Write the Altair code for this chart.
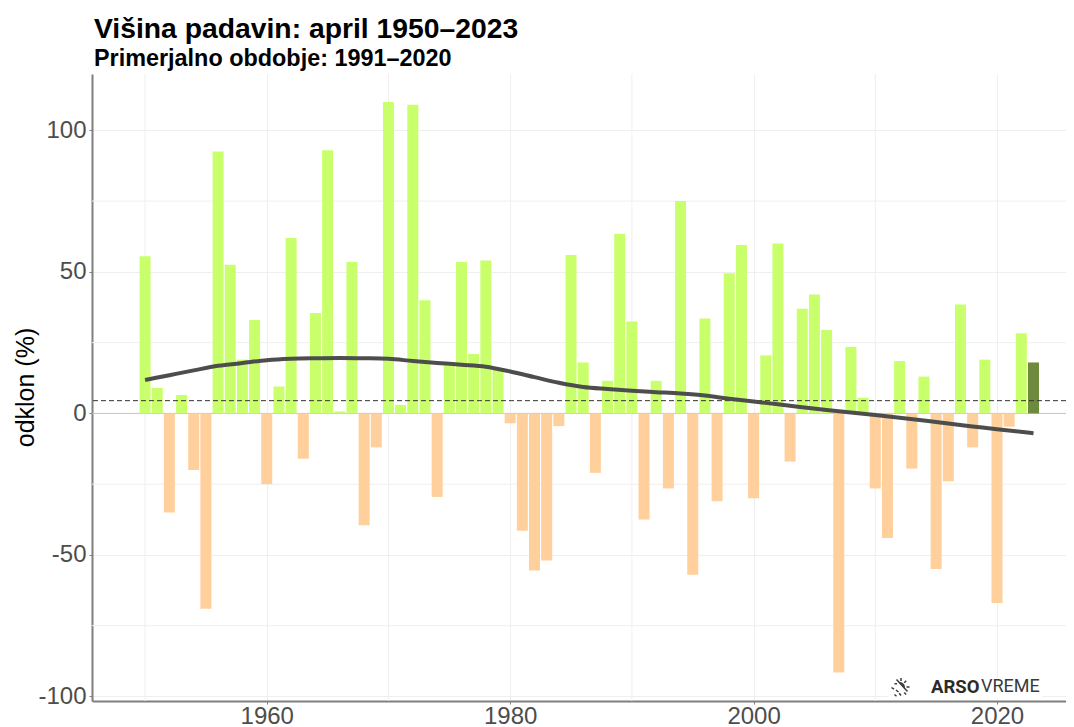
import altair as alt
import pandas as pd

years = list(range(1950, 2024))
anomaly = [55.5, 9, -35, 6.5, -20, -69, 92.5, 52.5, 19, 33,
           -25, 9.5, 62, -16, 35.5, 93, 0.7, 53.5, -39.5, -12,
           110, 3, 109, 40, -29.5, 17, 53.5, 21, 54, 16,
           -3.5, -41.5, -55.5, -52, -4.5, 56, 18, -21, 11.5, 63.5,
           32.5, -37.5, 11.5, -26.5, 75, -57, 33.5, -31, 49.5, 59.5,
           -30, 20.5, 60, -17, 37, 42, 29.5, -91.5, 23.5, 5.5,
           -26.5, -44, 18.5, -19.5, 13, -55, -24, 38.5, -12, 19,
           -67, -4.7, 28.3, 18]
trend_years = [1950, 1952, 1954, 1956, 1958, 1960, 1962, 1964, 1966, 1968, 1970, 1972, 1974,
               1976, 1978, 1980, 1982, 1984, 1986, 1988, 1990, 1992, 1994, 1996, 1998, 2000,
               2002, 2004, 2006, 2008, 2010, 2012, 2014, 2016, 2018, 2020, 2023]
trend_values = [11.8, 13.5, 15.2, 16.8, 17.8, 18.8, 19.3, 19.5, 19.6, 19.5, 19.3, 18.5, 17.8,
                17.2, 16.5, 14.8, 12.8, 10.8, 9.3, 8.6, 8, 7.5, 7, 6.3, 5.2, 4.2,
                3.2, 2.2, 1.2, 0.3, -0.6, -1.5, -2.5, -3.6, -4.6, -5.6, -7]
minor_x = [1950, 1970, 1990, 2010]
minor_y = [-75, -25, 25, 75]
x_ticks = [1960, 1980, 2000, 2020]
y_ticks = [-100, -50, 0, 50, 100]
reference_level = 4.5

kinds = []
for y, v in zip(years, anomaly):
    kinds.append("last" if y == 2023 else ("pos" if v >= 0 else "neg"))
bars_df = pd.DataFrame({"year": years, "value": anomaly, "kind": kinds})
trend_df = pd.DataFrame({"year": trend_years, "value": trend_values})

x_scale = alt.Scale(domain=[1945.64, 2025.67], nice=False, zero=False, padding=0)
y_scale = alt.Scale(domain=[-101.6, 119.9], nice=False, zero=False, padding=0)
GRID = "#EFEFEF"

x_enc = alt.X("year:Q", scale=x_scale, title=None,
              axis=alt.Axis(values=x_ticks, format="d", labelFontSize=24, labelColor="#4D4D4D",
                            labelFont="Liberation Sans", labelPadding=0, tickSize=3, tickColor="#7F7F7F",
                            domainColor="#7F7F7F", domainWidth=2, gridColor=GRID, gridWidth=1, grid=True,
                            labelFlush=False, labelOverlap=False))
y_enc = alt.Y("value:Q", scale=y_scale, title="odklon (%)",
              axis=alt.Axis(values=y_ticks, labelExpr="toString(datum.value)", labelFontSize=24,
                            labelColor="#4D4D4D",
                            labelFont="Liberation Sans", labelPadding=3, tickSize=3, tickColor="#7F7F7F",
                            domainColor="#7F7F7F", domainWidth=2, gridColor=GRID, gridWidth=1, grid=True,
                            titleFontSize=25, titleFont="Liberation Sans", titleFontWeight="normal",
                            titleColor="#000000", titleX=-54, titleY=313, labelOverlap=False))

minor_v = alt.Chart(pd.DataFrame({"x": minor_x})).mark_rule(color=GRID, strokeWidth=1).encode(
    x=alt.X("x:Q", scale=x_scale))
minor_h = alt.Chart(pd.DataFrame({"y": minor_y})).mark_rule(color=GRID, strokeWidth=1).encode(
    y=alt.Y("y:Q", scale=y_scale))

bars = alt.Chart(bars_df).mark_bar(size=11, orient="vertical").encode(
    x=x_enc,
    y=y_enc,
    color=alt.Color("kind:N", legend=None,
                    scale=alt.Scale(domain=["pos", "neg", "last"],
                                    range=["#CAFF6C", "#FFD09B", "#6E8A3C"])),
)
zero = alt.Chart(pd.DataFrame({"y": [0]})).mark_rule(color="#C4C4C4", strokeWidth=1).encode(
    y=alt.Y("y:Q", scale=y_scale))
ref = alt.Chart(pd.DataFrame({"y": [reference_level]})).mark_rule(
    color="#333333", strokeWidth=1, strokeDash=[5, 3]).encode(y=alt.Y("y:Q", scale=y_scale))
trend = alt.Chart(trend_df).mark_line(color="#4D4D4D", strokeWidth=4, interpolate="monotone").encode(
    x=alt.X("year:Q", scale=x_scale), y=alt.Y("value:Q", scale=y_scale))

logo_bg = alt.Chart(pd.DataFrame({"a": [0]})).mark_rect(color="white").encode(
    x=alt.value(796), x2=alt.value(950), y=alt.value(604), y2=alt.value(625))
icon_path = ("M-0.35,-0.75 L0.75,0.45 M-0.02,-0.42 A0.45,0.45 0 0 1 0.42,0.12 "
             "M0.1,-0.9 L0.1,-0.6 M0.62,-0.62 L0.42,-0.42 M0.95,0 L0.65,0 "
             "M-0.55,-0.32 L-0.3,-0.32 M0.62,0.75 L0.42,0.55 "
             "M-0.85,0.05 L-0.6,0.22 M-0.4,0.3 L-0.15,0.5 M-0.55,0.75 L-0.35,0.92 M-0.08,0.62 L0.1,0.85")
logo_icon = alt.Chart(pd.DataFrame({"a": [0]})).mark_point(
    shape=icon_path, filled=False, stroke="#3A3A3A", strokeWidth=1.5, size=400, opacity=1).encode(
    x=alt.value(808), y=alt.value(613))
logo_a = alt.Chart(pd.DataFrame({"t": ["ARSO"]})).mark_text(
    font="Roboto", fontWeight="bold", fontSize=18.5, color="#2B2B2B", align="left", baseline="middle").encode(
    x=alt.value(839), y=alt.value(613), text="t:N")
logo_b = alt.Chart(pd.DataFrame({"t": ["VREME"]})).mark_text(
    font="Roboto", fontWeight="normal", fontSize=18, color="#3A3A3A", align="left", baseline="middle").encode(
    x=alt.value(889), y=alt.value(613), text="t:N")

chart = alt.layer(minor_v, minor_h, zero, bars, ref, trend, logo_bg, logo_icon, logo_a, logo_b).properties(
    width=974, height=627,
    autosize=alt.AutoSizeParams(type="none"),
    padding={"left": 84, "top": 66, "right": 0, "bottom": 32},
    title=alt.TitleParams(text="Višina padavin: april 1950–2023", subtitle="Primerjalno obdobje: 1991–2020",
                          anchor="start", frame="group", dx=2, offset=2,
                          font="Liberation Sans", fontSize=28.3, fontWeight="bold", color="#000000",
                          subtitleFont="Liberation Sans", subtitleFontSize=23.4, subtitleFontWeight="bold",
                          subtitleColor="#000000", subtitlePadding=4),
).configure_view(stroke=None)

chart.save("out.html", embed_options={"renderer": "svg", "actions": False})
